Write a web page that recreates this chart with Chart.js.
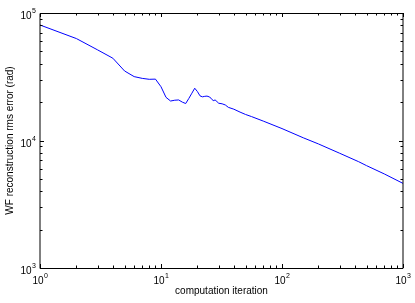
<!DOCTYPE html>
<html>
<head>
<meta charset="utf-8">
<script src="https://cdn.jsdelivr.net/npm/chart.js@4/dist/chart.umd.min.js"></script>
<style>
  html, body { margin: 0; padding: 0; background: #fff; }
  #wrap { width: 415px; height: 303px; }
</style>
</head>
<body>
<div id="wrap"><canvas id="myChart" width="415" height="303"></canvas></div>
<script>
// iteration number vs WF reconstruction rms error (rad)
const iterations = [1, 2, 3, 4, 5, 6, 7, 8, 9, 10, 11, 12, 13, 14, 15, 16, 17, 18, 19, 20,
  21, 22, 23, 24, 25, 26, 27, 28, 29, 30, 32, 34, 36, 40, 45, 50, 56, 70, 100, 150,
  200, 300, 430, 500, 700, 1000];
const rmsError = [80500, 63000, 51300, 44200, 35100, 31700, 30700, 30200, 30300, 26400,
  21800, 20400, 20700, 20800, 20000, 19500, 21400, 23500, 25700, 24200,
  22400, 22000, 22200, 22300, 22000, 21400, 20500, 20800, 20200, 19600,
  19400, 19000, 18200, 17600, 16700, 16000, 15400, 14200, 12400, 10500,
  9400, 7940, 6820, 6350, 5470, 4610];

const xDecades = [1, 10, 100, 1000];
const xExponents = ['0', '1', '2', '3'];
const yDecades = [1000, 10000, 100000];
const yExponents = ['3', '4', '5'];

const xTitle = 'computation iteration';
const yTitle = 'WF reconstruction rms error (rad)';

const fontFamily = '"Liberation Sans", Arial, Helvetica, sans-serif';
const ctx = document.getElementById('myChart').getContext('2d');

// matlab style box with inward ticks, drawn from the chart's own scales
const matlabAxes = {
  id: 'matlabAxes',
  afterDraw(chart) {
    const c = chart.ctx;
    const a = chart.chartArea;
    const xs = chart.scales.x;
    const ys = chart.scales.y;
    c.save();
    c.strokeStyle = '#000';
    c.lineWidth = 1;

    // box
    c.beginPath();
    c.rect(a.left, a.top + 0.5, a.right - a.left, a.bottom - a.top);
    c.stroke();

    const tick = (x1, y1, x2, y2) => {
      c.beginPath();
      c.moveTo(x1, y1);
      c.lineTo(x2, y2);
      c.stroke();
    };

    // x ticks (bottom and top)
    for (let d = 1; d < 1000; d *= 10) {
      for (let m = 1; m <= 10; m++) {
        const v = d * m;
        if (v > 1000) continue;
        const len = (m === 1 || m === 10) ? 4 : 2.5;
        const px = Math.round(xs.getPixelForValue(v)) + 0.5;
        tick(px, a.bottom, px, a.bottom - len);
        tick(px, a.top, px, a.top + len);
      }
    }
    // y ticks (left and right)
    for (let d = 1000; d < 100000; d *= 10) {
      for (let m = 1; m <= 10; m++) {
        const v = d * m;
        const len = (m === 1 || m === 10) ? 4 : 2.5;
        const py = Math.round(ys.getPixelForValue(v)) + 0.5;
        tick(a.left, py, a.left + len, py);
        tick(a.right, py, a.right - len, py);
      }
    }

    // tick labels 10^n
    c.fillStyle = '#000';
    const baseFont = '10px ' + fontFamily;
    const expFont = '7px ' + fontFamily;
    const measure = (txt, f) => { c.font = f; return c.measureText(txt).width; };

    xDecades.forEach((v, i) => {
      const px = xs.getPixelForValue(v);
      const wb = measure('10', baseFont);
      const we = measure(xExponents[i], expFont);
      const left = px - (wb + we) / 2;
      c.textBaseline = 'alphabetic';
      c.textAlign = 'left';
      c.font = baseFont;
      c.fillText('10', left, a.bottom + 16);
      c.font = expFont;
      c.fillText(xExponents[i], left + wb + 0.5, a.bottom + 10);
    });

    yDecades.forEach((v, i) => {
      const py = ys.getPixelForValue(v);
      const wb = measure('10', baseFont);
      const we = measure(yExponents[i], expFont);
      const right = a.left - 4;
      c.textBaseline = 'alphabetic';
      c.textAlign = 'left';
      c.font = baseFont;
      c.fillText('10', right - we - 0.5 - wb, py + 6);
      c.font = expFont;
      c.fillText(yExponents[i], right - we, py);
    });

    // axis titles
    c.font = '10px ' + fontFamily;
    c.textAlign = 'center';
    c.textBaseline = 'middle';
    c.fillText(xTitle, (a.left + a.right) / 2, 291.5);
    c.translate(10.5, (a.top + a.bottom) / 2);
    c.rotate(-Math.PI / 2);
    c.fillText(yTitle, 0, 0);
    c.restore();
  }
};

Chart.defaults.font.family = fontFamily;

const myChart = new Chart(ctx, {
  type: 'line',
  data: {
    datasets: [{
      data: iterations.map((it, i) => ({ x: it, y: rmsError[i] })),
      borderColor: '#0000ff',
      borderWidth: 1,
      pointRadius: 0,
      tension: 0,
      fill: false
    }]
  },
  options: {
    responsive: false,
    animation: false,
    devicePixelRatio: 1,
    layout: { padding: { left: 40, top: 13, right: 12, bottom: 35 } },
    plugins: {
      legend: { display: false },
      tooltip: { enabled: false }
    },
    scales: {
      x: { type: 'logarithmic', min: 1, max: 1000, display: false },
      y: { type: 'logarithmic', min: 1000, max: 100000, display: false }
    }
  },
  plugins: [matlabAxes]
});
</script>
</body>
</html>
